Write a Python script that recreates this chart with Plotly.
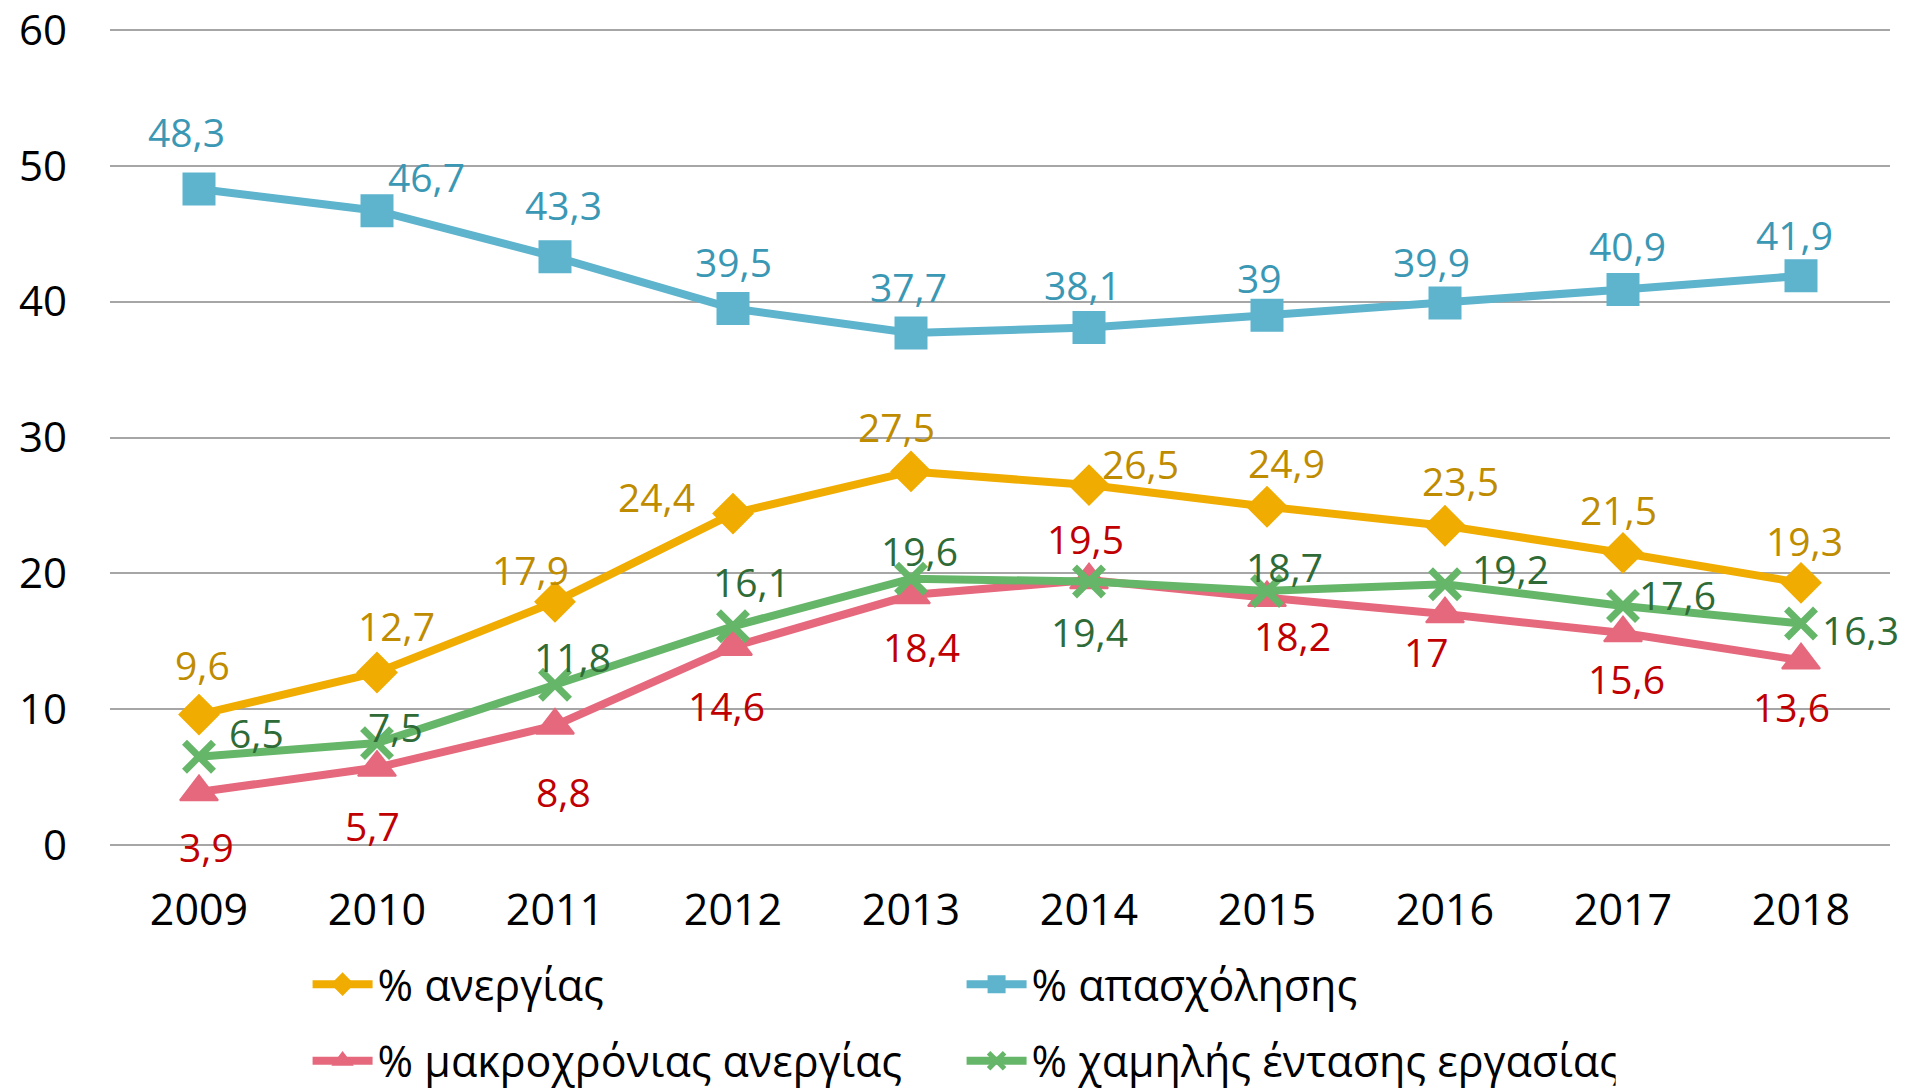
import plotly.graph_objects as go

years = ["2009", "2010", "2011", "2012", "2013", "2014", "2015", "2016", "2017", "2018"]

anergia = [9.6, 12.7, 17.9, 24.4, 27.5, 26.5, 24.9, 23.5, 21.5, 19.3]
apasxolisi = [48.3, 46.7, 43.3, 39.5, 37.7, 38.1, 39.0, 39.9, 40.9, 41.9]
makroxronia = [3.9, 5.7, 8.8, 14.6, 18.4, 19.5, 18.2, 17.0, 15.6, 13.6]
xamili_entasi = [6.5, 7.5, 11.8, 16.1, 19.6, 19.4, 18.7, 19.2, 17.6, 16.3]

names = ["% ανεργίας", "% απασχόλησης", "% μακροχρόνιας ανεργίας", "% χαμηλής έντασης εργασίας"]


def el(v):
    # greek decimal comma, drop trailing ,0
    s = ("%.1f" % v).rstrip("0").rstrip(".")
    return s.replace(".", ",")


FONT = "Open Sans"
S = 1.216  # offsets were measured on a shrunk copy

# label offsets (dx, dy) from the marker, labels were placed by hand in the original
off_anergia = [(3, -41), (16, -39), (-20, -27), (-63, -14), (-12, -37),
               (42, -18), (16, -36), (13, -37), (-4, -36), (3, -35)]
off_apasx = [(-10, -47), (41, -28), (7, -43), (0, -39), (-2, -38),
             (-5, -35), (-6, -31), (-11, -34), (4, -36), (-5, -34)]
off_makro = [(6, 45), (-4, 48), (7, 54), (-5, 48), (9, 42),
             (-3, -34), (21, 31), (-15, 31), (3, 37), (-8, 38)]
off_xam = [(47, -20), (15, -14), (14, -23), (15, -37), (7, -23),
           (0, 41), (14, -20), (54, -13), (45, -9), (49, 5)]

series = [
    (anergia, names[0], "#F0AC00", "#BF8C00", "diamond", 30, off_anergia, "legend"),
    (apasxolisi, names[1], "#5EB3CD", "#3B98B4", "square", 31, off_apasx, "legend"),
    (makroxronia, names[2], "#E5687C", "#C00000", "triangle-up", 33, off_makro, "legend2"),
    (xamili_entasi, names[3], "#66B66A", "#2F6B37", "x-thin", 29, off_xam, "legend2"),
]

fig = go.Figure()
for vals, name, col, tcol, sym, size, offs, leg in series:
    if sym == "x-thin":
        marker = dict(symbol=sym, size=size, color=col, line=dict(color=col, width=7))
    else:
        marker = dict(symbol=sym, size=size, color=col, line=dict(color=col, width=2))
    fig.add_trace(go.Scatter(
        x=years, y=vals, name=name, mode="lines+markers",
        line=dict(color=col, width=8),
        marker=marker,
        cliponaxis=False,
        legend=leg,
    ))
    # category axis: annotations take the category index
    for i, (v, (dx, dy)) in enumerate(zip(vals, offs)):
        fig.add_annotation(x=i, y=v, xref="x", yref="y", text=el(v), showarrow=False,
                           xshift=dx * S, yshift=-dy * S,
                           xanchor="center", yanchor="middle",
                           font=dict(family=FONT, size=39, color=tcol))

fig.update_layout(
    width=1899, height=1082,
    margin=dict(l=102, r=17, t=20, b=243, autoexpand=False),
    plot_bgcolor="white", paper_bgcolor="white",
    font=dict(family=FONT, color="black"),
    showlegend=True,
    legend=dict(orientation="h", x=0.111, y=-0.1675, xanchor="left", yanchor="middle",
                entrywidth=579, entrywidthmode="pixels",
                font=dict(family=FONT, size=43, color="black"), itemwidth=60),
    legend2=dict(orientation="h", x=0.111, y=-0.261, xanchor="left", yanchor="middle",
                 entrywidth=579, entrywidthmode="pixels",
                 font=dict(family=FONT, size=43, color="black"), itemwidth=60),
)

fig.update_xaxes(type="category", range=[-0.5, 9.5], showgrid=False, showline=False,
                 ticks="", tickfont=dict(family=FONT, size=43, color="black"),
                 ticklabelstandoff=34)
fig.update_yaxes(range=[-0.15, 60.15], tickvals=[0, 10, 20, 30, 40, 50, 60],
                 showgrid=True, gridcolor="#A6A6A6", gridwidth=1.5,
                 zeroline=False, showline=False, ticks="",
                 tickfont=dict(family=FONT, size=42, color="black"),
                 ticklabelstandoff=42, ticklabeloverflow="allow")

fig.write_html("out.html")
